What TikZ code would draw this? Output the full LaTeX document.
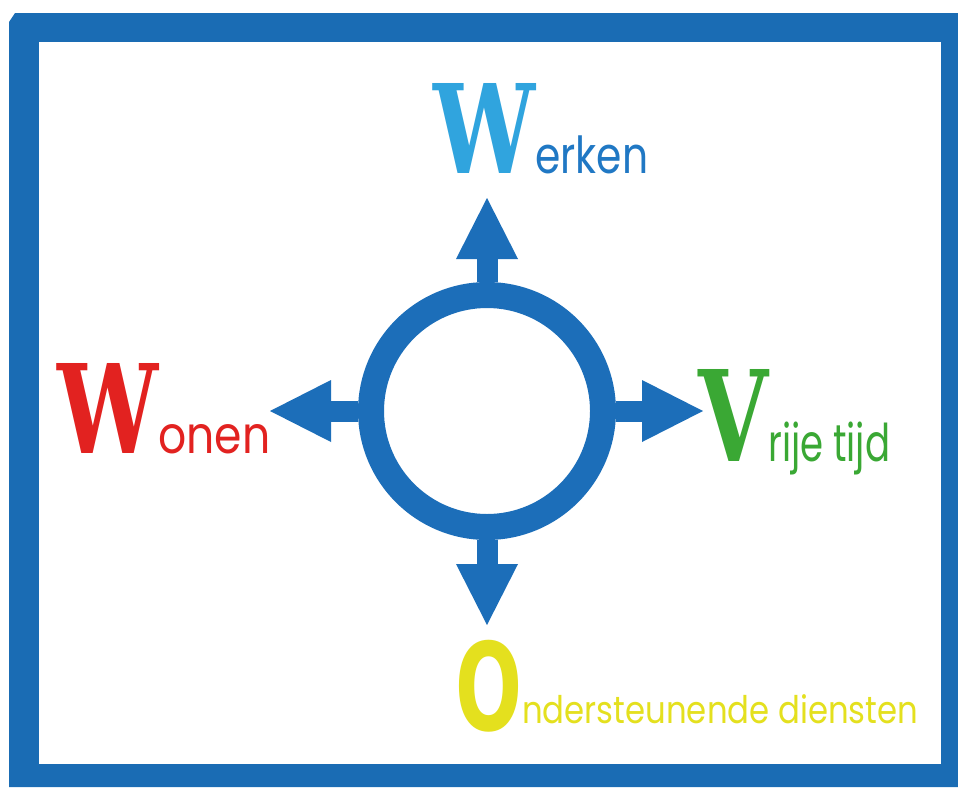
\documentclass[tikz,border=0pt]{standalone}
\usepackage{fontspec}
\usepackage{graphicx}
\usetikzlibrary{arrows.meta, positioning}
\newfontfamily\capfont{DejaVu Serif}
\newfontfamily\roundfont{DejaVu Sans}
\newfontfamily\labelfont{Poppins}
\definecolor{frameblue}{RGB}{26,108,180}
\definecolor{ringblue}{RGB}{28,110,185}
\definecolor{werkcap}{RGB}{48,164,222}
\definecolor{werktxt}{RGB}{32,120,196}
\definecolor{woonred}{RGB}{226,34,32}
\definecolor{vrijgreen}{RGB}{58,168,52}
\definecolor{ondyellow}{RGB}{228,224,30}
% big first letter: colour, letter, width, height
\newcommand{\capletter}[4]{\textcolor{#1}{\resizebox{#3}{#4}{\capfont\bfseries #2}}}
% rest of the word: colour, size, width, text
\newcommand{\restword}[4]{\textcolor{#1}{\resizebox{#3}{\height}{\labelfont\fontsize{#2}{#2}\selectfont #4}}}

\begin{document}
\begin{tikzpicture}[x=1pt, y=-1pt,
    arrowline/.style={draw=ringblue, line width=21pt, -{Triangle[width=62pt, length=61pt, line width=0pt]}},
    wordlabel/.style={anchor=base west, inner sep=0pt}]
    \useasboundingbox (0,0) rectangle (958,787);

    % Draw the frame
    \fill[frameblue] (9,22) -- (15,13) -- (958,13) -- (958,787) -- (9,787) -- cycle;
    \fill[white] (39,42) rectangle (941,764);

    % Draw the ring
    \node[circle, draw=ringblue, line width=26pt, minimum size=232pt, inner sep=0pt] (ring) at (487,411) {};

    % Arrow tips
    \coordinate (tipN) at (487,198);
    \coordinate (tipS) at (487,625);
    \coordinate (tipW) at (270,411);
    \coordinate (tipE) at (703,411);

    % Draw the arrows leaving the ring
    \draw[arrowline] (ring.north) -- (tipN);
    \draw[arrowline] (ring.south) -- (tipS);
    \draw[arrowline] (ring.west) -- (tipW);
    \draw[arrowline] (ring.east) -- (tipE);

    % Draw the four words
    \node[wordlabel] (werken) at (433,173)
        {\capletter{werkcap}{W}{102pt}{90pt}\restword{werktxt}{51}{113pt}{erken}};
    \node[wordlabel] (wonen) at (57,453)
        {\capletter{woonred}{W}{101pt}{90pt}\restword{woonred}{52}{112pt}{onen}};
    \node[wordlabel] (vrije) at (698,461)
        {\capletter{vrijgreen}{V}{70pt}{92pt}\restword{vrijgreen}{52}{122pt}{rije tijd}};
    \node[wordlabel] (onder) at (455,723)
        {\textcolor{ondyellow}{\raisebox{-7pt}{\resizebox*{67pt}{92pt}{\roundfont\bfseries O}}}\restword{ondyellow}{38}{396pt}{ndersteunende diensten}};
\end{tikzpicture}
\end{document}
